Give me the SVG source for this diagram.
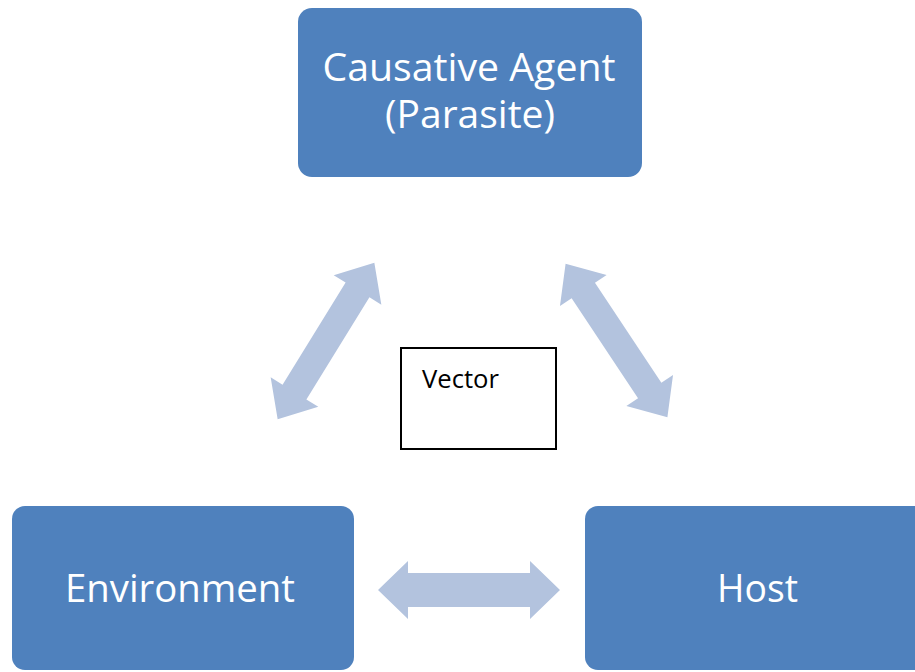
<svg xmlns="http://www.w3.org/2000/svg" width="915" height="672" viewBox="0 0 915 672">
<style>
.box{fill:#4f81bd;}
.lbl{fill:#ffffff;font-family:"Open Sans","Noto Sans",sans-serif;font-size:38px;text-anchor:middle;}
.arr{fill:#b3c3de;}
.vbox{fill:#ffffff;stroke:#000000;stroke-width:2;}
.vlbl{fill:#000000;font-family:"Open Sans","Noto Sans",sans-serif;font-size:25px;}
</style>
<defs>
<polygon id="dArrow" points="-92,0 -60,-28 -60,-14 60,-14 60,-28 92,0 60,28 60,14 -60,14 -60,28"/>
</defs>
<rect width="915" height="672" fill="#ffffff"/>
<g id="connectors">
<use href="#dArrow" class="arr" transform="translate(326,341) rotate(-58.3)"/>
<use href="#dArrow" class="arr" transform="translate(616.5,340.5) rotate(56.4)"/>
<polygon class="arr" points="378,590 408,561 408,573 530,573 530,561 560,590 530,619 530,607 408,607 408,619"/>
</g>
<g id="agent">
<rect class="box" x="298" y="8" width="344" height="169" rx="14"/>
<text class="lbl" x="469" y="81" textLength="293" lengthAdjust="spacingAndGlyphs">Causative Agent</text>
<text class="lbl" x="470" y="128" textLength="170" lengthAdjust="spacingAndGlyphs">(Parasite)</text>
</g>
<g id="environment">
<rect class="box" x="12" y="506" width="342" height="164" rx="13"/>
<text class="lbl" x="180" y="602" textLength="230" lengthAdjust="spacingAndGlyphs">Environment</text>
</g>
<g id="host">
<rect class="box" x="585" y="506" width="345" height="164" rx="13"/>
<text class="lbl" x="757.5" y="602" textLength="81" lengthAdjust="spacingAndGlyphs">Host</text>
</g>
<g id="vector">
<rect class="vbox" x="401" y="348" width="155" height="101"/>
<text class="vlbl" x="422" y="388" textLength="77" lengthAdjust="spacingAndGlyphs">Vector</text>
</g>
</svg>
